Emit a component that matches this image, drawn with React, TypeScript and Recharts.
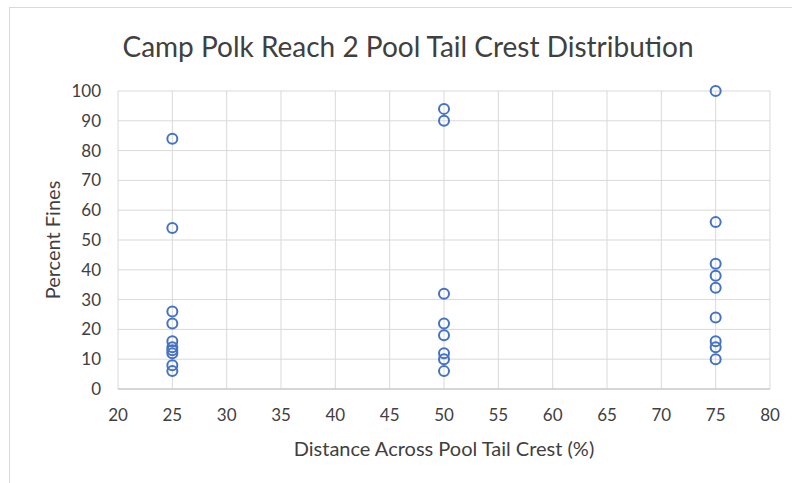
import { ScatterChart, Scatter, XAxis, YAxis, CartesianGrid } from 'recharts';

const distanceTicks = [20, 25, 30, 35, 40, 45, 50, 55, 60, 65, 70, 75, 80];
const fineTicks = [0, 10, 20, 30, 40, 50, 60, 70, 80, 90, 100];

// percent fines measured at each position across the crest
const finesAt25 = [84, 54, 26, 22, 16, 14, 13, 12, 8, 6];
const finesAt50 = [94, 90, 32, 22, 18, 12, 10, 6];
const finesAt75 = [100, 56, 42, 38, 34, 24, 16, 14, 10];

const points = [
    ...finesAt25.map((v) => ({ x: 25, y: v })),
    ...finesAt50.map((v) => ({ x: 50, y: v })),
    ...finesAt75.map((v) => ({ x: 75, y: v })),
];

const FONT = 'Lato, "Open Sans", sans-serif';
const TEXT = '#404040';

const OpenCircle = (props: any) => {
    const { cx, cy } = props;
    return <circle cx={cx} cy={cy} r={5} fill="none" stroke="#4472C4" strokeWidth={2} />;
};

const YTitle = ({ viewBox }: any) => {
    const cx = 52;
    const cy = viewBox.y + viewBox.height / 2;
    return (
        <text
            x={cx}
            y={cy}
            transform={`rotate(-90, ${cx}, ${cy})`}
            textAnchor="middle"
            dominantBaseline="central"
            fill={TEXT}
            style={{ fontFamily: FONT, fontSize: 20 }}
        >
            Percent Fines
        </text>
    );
};

export default function App() {
    return (
        <div style={{ position: 'absolute', left: 0, top: 0, width: 792, height: 483, background: '#fff', overflow: 'hidden' }}>
            <div
                style={{
                    position: 'absolute',
                    left: 9,
                    top: 7,
                    width: 800,
                    height: 490,
                    border: '1px solid #d9d9d9',
                    boxSizing: 'border-box',
                }}
            />
            <div
                style={{
                    position: 'absolute',
                    left: 0,
                    width: 816,
                    top: 28,
                    textAlign: 'center',
                    fontFamily: FONT,
                    fontSize: 28,
                    color: TEXT,
                    lineHeight: '36px',
                }}
            >
                Camp Polk Reach 2 Pool Tail Crest Distribution
            </div>
            <ScatterChart
                width={792}
                height={483}
                margin={{ top: 91, right: 22, bottom: 0, left: 0 }}
                style={{ position: 'absolute', left: 0, top: 0 }}
            >
                <CartesianGrid stroke="#d9d9d9" strokeWidth={1} />
                <XAxis
                    type="number"
                    dataKey="x"
                    domain={[20, 80]}
                    ticks={distanceTicks}
                    height={94}
                    tickSize={0}
                    tickMargin={20}
                    axisLine={{ stroke: '#bfbfbf', strokeWidth: 1 }}
                    tick={{ fill: TEXT, fontSize: 17, fontFamily: FONT }}
                    label={{
                        value: 'Distance Across Pool Tail Crest (%)',
                        position: 'insideBottom',
                        offset: 27,
                        fill: TEXT,
                        fontSize: 20,
                        fontFamily: FONT,
                    }}
                />
                <YAxis
                    type="number"
                    dataKey="y"
                    domain={[0, 100]}
                    ticks={fineTicks}
                    width={118}
                    tickSize={0}
                    tickMargin={17}
                    axisLine={false}
                    tick={{ fill: TEXT, fontSize: 17, fontFamily: FONT }}
                    label={<YTitle />}
                />
                <Scatter data={points} shape={<OpenCircle />} isAnimationActive={false} />
            </ScatterChart>
        </div>
    );
}
